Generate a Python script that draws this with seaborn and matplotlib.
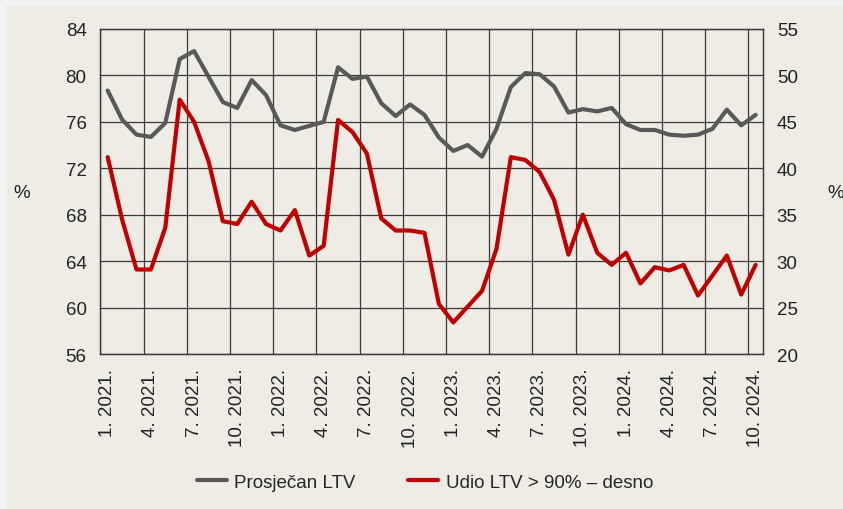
import matplotlib.pyplot as plt
import matplotlib.patches as mpatches
import seaborn as sns
import numpy as np
import pandas as pd

# monthly data, 1/2021 - 10/2024
months = pd.period_range("2021-01", "2024-10", freq="M")

avg_ltv = [78.7, 76.2, 74.9, 74.7, 75.9, 81.4, 82.1, 79.9, 77.7, 77.2,
           79.6, 78.3, 75.7, 75.3, 75.65, 76.0, 80.7, 79.7, 79.9, 77.6,
           76.5, 77.5, 76.6, 74.65, 73.5, 74.0, 73.0, 75.4, 79.0, 80.2,
           80.1, 79.05, 76.8, 77.1, 76.9, 77.2, 75.8, 75.3, 75.3, 74.9,
           74.8, 74.9, 75.4, 77.05, 75.7, 76.6]

share_ltv_90 = [41.2, 34.5, 29.1, 29.1, 33.6, 47.4, 45.0, 40.8, 34.3, 34.0,
                36.4, 34.0, 33.3, 35.5, 30.6, 31.65, 45.2, 43.9, 41.6, 34.6,
                33.3, 33.3, 33.05, 25.4, 23.4, 25.1, 26.8, 31.3, 41.2, 40.9,
                39.6, 36.6, 30.7, 35.0, 30.9, 29.6, 30.9, 27.6, 29.35, 29.0,
                29.6, 26.3, 28.45, 30.6, 26.4, 29.6]

left_ticks = [56, 60, 64, 68, 72, 76, 80, 84]
right_ticks = [20, 25, 30, 35, 40, 45, 50, 55]

label_avg = "Prosječan LTV"
label_share = "Udio LTV > 90% – desno"

bg = "#efece5"
grid_col = "#3a3a3a"
gray = "#595959"
red = "#c00000"
fs = 13.5

sns.set_theme(style="white")
plt.rcParams["font.family"] = ["Liberation Sans Narrow", "Liberation Sans", "DejaVu Sans"]
plt.rcParams["font.size"] = fs

x = np.arange(len(months))

fig = plt.figure(figsize=(8.43, 5.10), dpi=100)
fig.patch.set_facecolor("#f3f3f3")
fig.patches.append(mpatches.Rectangle((7 / 843, 0), 1, 1 - 7 / 510,
                                      transform=fig.transFigure,
                                      facecolor=bg, edgecolor="none", zorder=-10))

ax = fig.add_axes([0.1192, 0.3039, 0.7857, 0.6373])
ax.set_facecolor(bg)
ax2 = ax.twinx()

sns.lineplot(x=x, y=avg_ltv, ax=ax, color=gray, lw=3.0, label=label_avg, legend=False)
sns.lineplot(x=x, y=share_ltv_90, ax=ax2, color=red, lw=3.0, label=label_share, legend=False)

ax.set_xlim(-0.5, len(months) - 0.5)
ax.set_ylim(left_ticks[0], left_ticks[-1])
ax2.set_ylim(right_ticks[0], right_ticks[-1])
ax.set_yticks(left_ticks)
ax2.set_yticks(right_ticks)

tick_pos = x[::3]
ax.set_xticks(tick_pos)
ax.set_xticklabels([f"{m.month}. {m.year}." for m in months[::3]], rotation=90)
ax.set_xticks(np.arange(-0.5, len(months) - 0.5, 3), minor=True)

ax.grid(False)
ax2.grid(False)
ax.grid(True, axis="y", color=grid_col, lw=0.9)
ax.grid(True, axis="x", which="minor", color=grid_col, lw=0.9)
ax.set_axisbelow(True)

for a in (ax, ax2):
    for s in a.spines.values():
        s.set_color(grid_col)
        s.set_linewidth(0.9)
    a.tick_params(length=0, pad=10, colors="#222222", labelsize=fs)
    a.tick_params(which="minor", length=0)

ax.set_ylabel("")
ax2.set_ylabel("")
fig.text(22 / 843, 1 - 193 / 510, "%", ha="center", va="center", fontsize=fs, color="#222222")
fig.text(836 / 843, 1 - 193 / 510, "%", ha="center", va="center", fontsize=fs, color="#222222")

h1, l1 = ax.get_legend_handles_labels()
h2, l2 = ax2.get_legend_handles_labels()
fig.legend(h1 + h2, l1 + l2, loc="center", bbox_to_anchor=(425 / 843, 1 - 483 / 510),
           ncol=2, frameon=False, handlelength=1.6, handletextpad=0.4,
           columnspacing=2.8, fontsize=fs)

fig.savefig("out.png", dpi=100, facecolor=fig.get_facecolor())
